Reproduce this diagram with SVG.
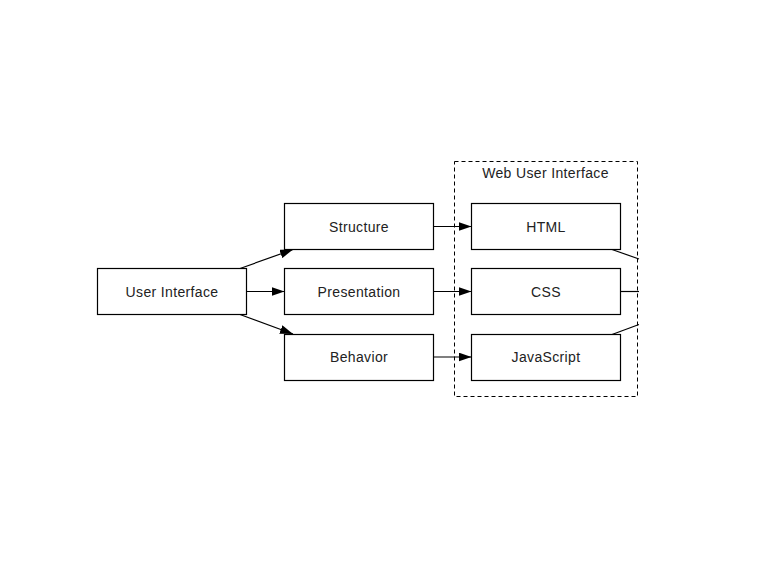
<svg xmlns="http://www.w3.org/2000/svg" width="768" height="576" viewBox="0 0 768 576">
<defs>
<style>
.box{fill:#fff;stroke:#000;stroke-width:1.2}
.lbl{font-family:"Liberation Sans",Arial,sans-serif;font-size:14px;fill:#222;text-anchor:middle;dominant-baseline:central;letter-spacing:0.35px}
.edge{stroke:#000;stroke-width:1.2;fill:none}
</style>
<marker id="ah" viewBox="0 0 13 9" refX="13" refY="4.5" markerWidth="13" markerHeight="9" markerUnits="userSpaceOnUse" orient="auto">
<path d="M0,0 L13,4.5 L0,9 Z" fill="#000"/>
</marker>
</defs>
<rect width="768" height="576" fill="#fff"/>
<g id="web-user-interface">
<rect x="454.5" y="161.5" width="183" height="235" fill="none" stroke="#000" stroke-width="1" stroke-dasharray="4,3"/>
<text class="lbl" x="545.5" y="173">Web User Interface</text>
</g>
<g id="user-interface"><rect class="box" x="97.5" y="268.5" width="149" height="46"/><text class="lbl" x="172" y="291.5">User Interface</text></g>
<g id="structure"><rect class="box" x="284.5" y="203.5" width="149" height="46"/><text class="lbl" x="359" y="226.5">Structure</text></g>
<g id="presentation"><rect class="box" x="284.5" y="268.5" width="149" height="46"/><text class="lbl" x="359" y="291.5">Presentation</text></g>
<g id="behavior"><rect class="box" x="284.5" y="334.5" width="149" height="46"/><text class="lbl" x="359" y="357">Behavior</text></g>
<g id="html"><rect class="box" x="471.5" y="203.5" width="149" height="46"/><text class="lbl" x="546" y="226.5">HTML</text></g>
<g id="css"><rect class="box" x="471.5" y="268.5" width="149" height="46"/><text class="lbl" x="546" y="291.5">CSS</text></g>
<g id="javascript"><rect class="box" x="471.5" y="334.5" width="149" height="46"/><text class="lbl" x="546" y="357">JavaScript</text></g>
<g id="connectors">
<line class="edge" x1="240" y1="268.5" x2="293" y2="249.5" marker-end="url(#ah)"/>
<line class="edge" x1="246.5" y1="291.5" x2="284.5" y2="291.5" marker-end="url(#ah)"/>
<line class="edge" x1="240" y1="314.5" x2="293" y2="334" marker-end="url(#ah)"/>
<line class="edge" x1="433.5" y1="226.5" x2="471.5" y2="226.5" marker-end="url(#ah)"/>
<line class="edge" x1="433.5" y1="291.5" x2="471.5" y2="291.5" marker-end="url(#ah)"/>
<line class="edge" x1="433.5" y1="357" x2="471.5" y2="357" marker-end="url(#ah)"/>
<line class="edge" x1="612" y1="249.5" x2="639" y2="259"/>
<line class="edge" x1="620.5" y1="291.5" x2="639" y2="291.5"/>
<line class="edge" x1="612" y1="334.5" x2="639" y2="324.5"/>
</g>
</svg>
